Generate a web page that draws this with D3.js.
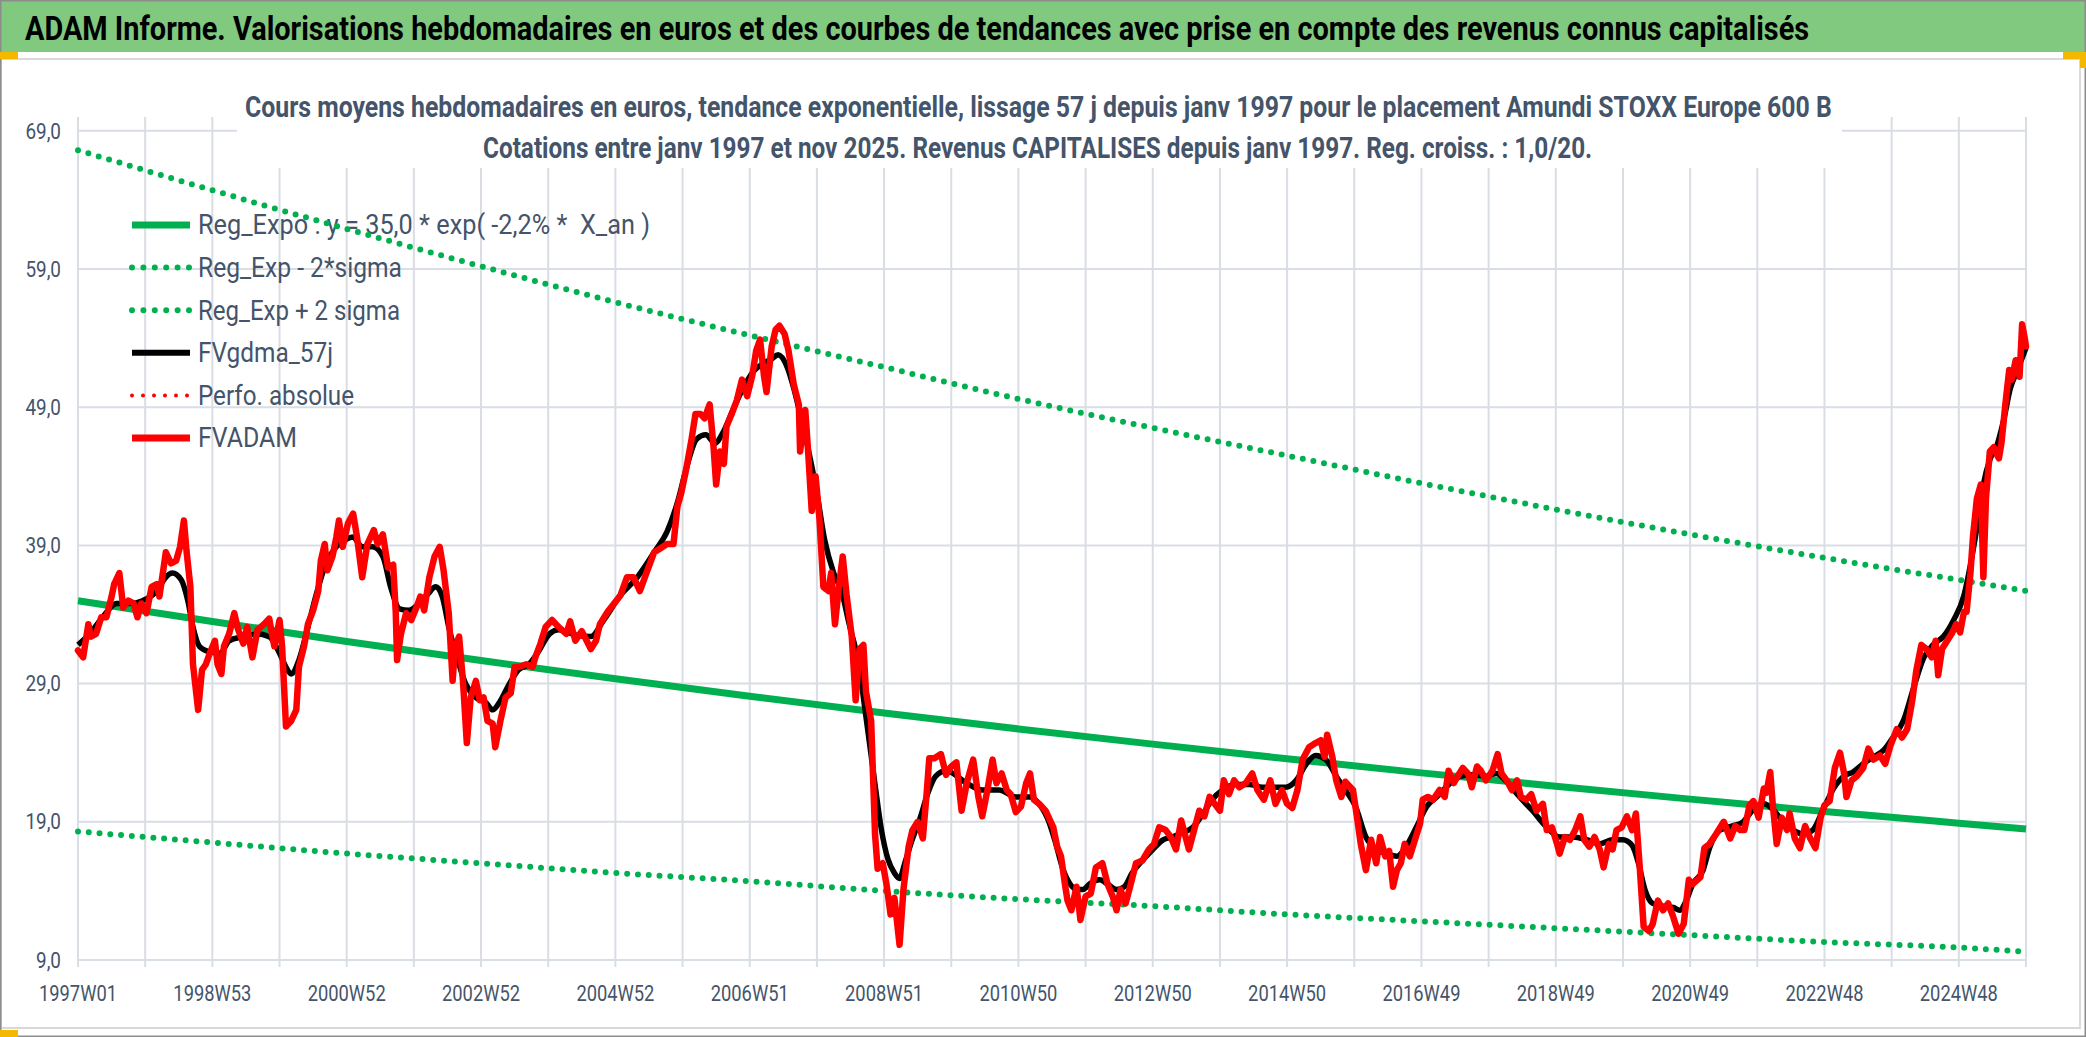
<!DOCTYPE html>
<html>
<head>
<meta charset="utf-8">
<script src="https://cdn.jsdelivr.net/npm/d3@7"></script>
<style>
  body { margin: 0; background: #fff; }
  svg text { font-family: Roboto, "Noto Sans", sans-serif; }
</style>
</head>
<body>
<svg id="chart" width="2086" height="1037"></svg>
<script>
// tick labels on the week axis, one every 104 weeks
const tickLabels = ["1997W01", "1998W53", "2000W52", "2002W52", "2004W52", "2006W51", "2008W51",
  "2010W50", "2012W50", "2014W50", "2016W49", "2018W49", "2020W49", "2022W48", "2024W48"];
const yTicks = [9, 19, 29, 39, 49, 59, 69];
const lastWeek = 1508;

// trend curves read every 2 years (week index)
const trendWeeks = [0, 104, 208, 312, 416, 520, 624, 728, 832, 936, 1040, 1144, 1248, 1352, 1456, 1508];
const regExpo = [35.0, 33.5, 32.05, 30.67, 29.35, 28.09, 26.88, 25.72, 24.62, 23.56, 22.54, 21.57, 20.64, 19.75, 18.9, 18.48];
const regUpper = [67.6, 64.7, 61.9, 59.2, 56.6, 54.2, 51.9, 49.6, 47.5, 45.5, 43.5, 41.6, 39.8, 38.1, 36.5, 35.7];
const regLower = [18.3, 17.5, 16.7, 16.0, 15.3, 14.7, 14.0, 13.4, 12.9, 12.3, 11.8, 11.3, 10.8, 10.3, 9.9, 9.6];

// FVgdma_57j : [week, value]
const fvgdma = [[0,31.8],[9,32.6],[19,33.8],[30,34.8],[40,34.8],[50,35.0],[61,35.7],[68,36.7],[73,37.0],[80,36.5],
  [85,35.0],[89,33.1],[94,31.7],[102,31.3],[110,31.2],[117,32.1],[128,32.4],[138,32.6],[148,32.4],[156,31.2],
  [161,30.2],[165,29.7],[171,30.7],[178,33.1],[184,35.3],[192,37.7],[200,38.9],[207,39.4],[213,39.6],[220,38.9],
  [228,38.9],[236,38.2],[242,36.0],[249,34.4],[256,34.3],[264,34.8],[271,35.5],[277,36.0],[282,35.3],[287,33.1],
  [294,30.7],[300,29.0],[308,28.0],[316,27.6],[321,27.1],[326,27.6],[334,29.0],[341,30.0],[349,30.4],[357,31.4],
  [365,32.6],[372,32.9],[386,32.5],[397,32.4],[407,33.6],[420,35.4],[433,36.7],[446,38.5],[456,40.0],[464,42.1],
  [471,44.6],[479,46.7],[486,47.0],[493,46.4],[500,47.3],[507,48.8],[515,50.4],[523,51.6],[531,52.2],[537,52.5],
  [542,52.8],[549,51.9],[554,50.4],[559,48.5],[565,46.1],[572,42.8],[578,39.4],[585,37.0],[591,35.7],[597,33.3],
  [604,30.6],[610,26.6],[617,21.7],[622,18.4],[627,16.3],[632,15.3],[636,14.9],[640,16.0],[645,17.5],[652,19.3],
  [658,21.1],[664,22.3],[672,22.7],[688,21.8],[700,21.3],[713,21.3],[726,20.8],[737,20.8],[744,20.3],[752,18.9],
  [757,17.4],[762,15.7],[768,14.5],[773,14.1],[778,14.1],[783,14.5],[791,14.8],[797,14.5],[804,14.1],[810,14.3],
  [816,15.3],[824,16.2],[832,17.0],[840,17.7],[847,17.9],[855,18.2],[863,18.6],[871,19.6],[878,20.6],[886,21.3],
  [896,21.7],[907,21.7],[917,21.5],[927,21.5],[935,21.5],[943,22.0],[951,23.2],[958,23.8],[966,23.5],[974,22.3],
  [981,21.3],[989,20.1],[997,17.9],[1005,17.0],[1013,16.7],[1021,16.5],[1028,17.2],[1036,18.6],[1044,20.1],[1052,20.8],
  [1059,21.5],[1070,22.3],[1080,22.4],[1090,22.3],[1098,22.5],[1106,21.9],[1116,20.8],[1126,19.8],[1137,18.6],[1147,17.9],
  [1157,17.9],[1168,17.7],[1178,17.4],[1188,17.7],[1196,17.7],[1203,17.3],[1208,16.0],[1213,14.1],[1219,13.1],[1227,12.9],
  [1235,12.8],[1240,12.6],[1245,13.3],[1250,14.5],[1258,15.5],[1263,17.1],[1271,18.4],[1281,18.7],[1289,19.0],[1297,19.9],
  [1305,20.3],[1312,19.9],[1320,19.0],[1328,18.4],[1336,18.1],[1343,18.4],[1351,19.9],[1359,21.4],[1367,22.3],[1374,22.6],
  [1382,23.2],[1390,23.7],[1398,24.2],[1405,25.1],[1413,26.3],[1421,28.7],[1429,30.9],[1436,31.8],[1444,32.4],[1452,33.6],
  [1460,35.4],[1465,37.6],[1470,40.3],[1475,43.4],[1480,45.2],[1485,46.1],[1491,48.2],[1496,50.4],[1501,51.6],[1506,52.8],
  [1508,53.3]];

// FVADAM : [week, value]
const fvadam = [[0,31.4],[4,30.9],[8,33.3],[10,32.4],[14,32.6],[18,33.8],[22,33.8],[26,35.3],[28,36.2],[32,37.0],
  [35,34.5],[39,35.0],[43,34.8],[46,33.8],[49,34.8],[53,34.1],[57,36.0],[61,36.2],[63,35.3],[66,37.2],
  [68,38.5],[72,37.7],[76,37.9],[79,38.9],[82,40.8],[84,38.6],[87,36.0],[89,30.4],[93,27.1],[96,30.0],
  [99,30.4],[102,31.2],[106,32.1],[108,30.4],[111,29.7],[113,31.7],[117,32.6],[121,34.1],[124,32.9],[128,31.9],
  [131,33.1],[135,30.9],[139,32.9],[144,33.3],[148,33.7],[152,31.7],[156,33.6],[158,31.7],[161,25.9],[165,26.3],
  [169,27.1],[171,30.2],[175,31.7],[178,33.3],[182,34.3],[186,35.7],[188,37.9],[191,39.1],[193,37.2],[197,38.2],
  [200,39.6],[202,40.8],[205,38.9],[209,40.6],[213,41.3],[216,39.6],[220,36.7],[224,39.1],[229,40.1],[232,39.1],
  [236,39.8],[240,37.4],[244,37.6],[246,34.1],[247,30.7],[250,32.6],[254,34.1],[258,33.6],[262,34.5],[265,35.3],
  [268,34.3],[272,36.7],[276,38.2],[280,38.9],[283,37.2],[287,34.1],[290,29.2],[292,31.7],[295,32.4],[298,29.2],
  [301,24.7],[304,28.0],[308,29.2],[311,27.8],[314,28.0],[317,26.3],[321,26.1],[323,24.4],[327,26.3],[331,28.0],
  [335,28.3],[338,30.2],[341,30.2],[347,30.4],[352,30.2],[354,30.9],[358,31.9],[362,33.1],[367,33.6],[372,33.1],
  [378,32.6],[381,33.5],[385,32.1],[390,32.8],[397,31.5],[401,32.1],[404,33.3],[410,34.2],[415,34.8],[420,35.4],
  [425,36.7],[430,36.7],[435,35.7],[440,37.0],[446,38.5],[451,38.8],[456,39.1],[461,39.1],[464,41.8],[467,42.8],
  [471,44.6],[475,46.7],[478,48.5],[482,48.5],[485,48.2],[489,49.2],[492,46.1],[494,43.4],[497,45.8],[500,44.9],
  [502,47.6],[506,48.5],[510,49.5],[514,51.0],[518,49.8],[522,51.3],[525,53.1],[528,53.9],[531,51.3],[533,50.1],
  [537,53.4],[540,54.6],[543,54.9],[547,54.3],[550,53.1],[554,50.7],[558,49.2],[559,45.8],[563,48.8],[565,46.1],
  [568,41.5],[571,44.0],[574,40.9],[577,36.0],[581,35.7],[583,37.0],[586,33.3],[589,36.0],[592,38.2],[595,35.4],
  [599,32.4],[602,27.8],[605,31.5],[608,31.8],[610,28.4],[614,26.3],[617,18.1],[619,15.6],[623,16.0],[626,14.4],
  [629,12.3],[632,13.5],[636,10.1],[639,14.1],[643,17.2],[646,18.4],[650,19.0],[654,17.8],[657,21.1],[659,23.6],
  [663,23.6],[668,23.9],[672,22.4],[676,23.0],[680,23.3],[684,19.8],[688,21.8],[693,23.5],[697,20.8],[700,19.4],
  [704,21.3],[708,23.5],[711,21.8],[715,22.5],[719,21.3],[722,21.0],[726,19.7],[730,20.1],[734,21.8],[737,22.5],
  [740,20.6],[744,20.3],[749,19.8],[755,18.6],[758,17.2],[761,16.5],[764,14.5],[766,13.3],[769,12.6],[773,14.3],
  [776,11.9],[780,13.6],[784,13.8],[788,15.7],[793,16.0],[797,14.5],[801,13.6],[804,12.6],[807,14.1],[811,13.1],
  [815,14.5],[819,16.0],[824,16.2],[829,17.0],[833,17.4],[837,18.6],[842,18.4],[846,17.9],[850,17.0],[854,19.1],
  [856,18.4],[860,17.0],[864,18.4],[868,19.8],[872,19.4],[876,20.8],[880,20.3],[884,19.8],[887,22.0],[891,21.0],
  [895,22.0],[899,21.5],[904,21.8],[909,22.5],[913,21.3],[918,20.6],[923,22.0],[927,20.3],[932,21.3],[936,20.3],
  [940,20.0],[944,21.3],[948,23.5],[953,24.4],[958,24.7],[962,24.9],[965,23.7],[967,25.3],[971,23.7],[974,22.0],
  [978,20.8],[981,21.9],[987,21.3],[990,19.4],[993,17.4],[997,15.5],[1001,17.7],[1005,16.0],[1008,17.9],[1012,16.5],
  [1015,16.9],[1018,14.3],[1021,15.5],[1024,16.0],[1027,17.4],[1031,16.5],[1035,17.7],[1039,18.9],[1041,20.6],[1045,20.8],
  [1049,20.6],[1054,21.3],[1058,20.8],[1061,22.7],[1065,21.8],[1068,22.3],[1072,22.9],[1076,22.5],[1079,21.5],[1083,23.0],
  [1086,22.7],[1090,22.0],[1095,22.7],[1099,23.9],[1102,22.5],[1106,22.0],[1110,21.3],[1114,22.0],[1117,20.8],[1121,20.6],
  [1125,21.0],[1129,19.8],[1134,20.3],[1137,18.4],[1141,18.6],[1145,17.4],[1147,16.7],[1151,17.9],[1155,17.7],[1159,18.4],
  [1163,19.4],[1166,17.7],[1170,17.2],[1174,17.9],[1178,17.0],[1181,15.7],[1185,17.4],[1188,17.0],[1191,18.4],[1195,18.6],
  [1199,19.4],[1203,18.4],[1206,19.6],[1209,15.7],[1212,11.4],[1216,11.1],[1219,11.6],[1223,13.3],[1227,12.6],[1231,13.1],
  [1235,12.1],[1239,10.9],[1243,11.6],[1247,14.8],[1250,14.5],[1256,15.0],[1259,17.1],[1263,17.4],[1268,18.1],[1274,19.0],
  [1279,17.8],[1283,18.7],[1287,18.4],[1290,18.4],[1294,20.2],[1297,20.5],[1301,19.3],[1305,21.4],[1307,21.1],[1310,22.6],
  [1312,20.2],[1315,17.4],[1319,19.3],[1323,18.4],[1325,19.6],[1329,17.8],[1333,17.1],[1337,18.7],[1341,17.8],[1345,17.1],
  [1349,19.3],[1352,20.2],[1356,20.5],[1360,22.9],[1364,24.0],[1367,22.6],[1369,20.8],[1373,22.0],[1377,22.3],[1382,22.9],
  [1386,24.3],[1390,23.5],[1395,23.8],[1399,23.2],[1403,24.5],[1408,25.7],[1412,25.1],[1416,25.7],[1420,27.8],[1423,29.9],
  [1427,31.8],[1431,31.5],[1435,30.9],[1438,32.1],[1440,29.6],[1443,31.5],[1447,32.1],[1451,32.7],[1454,33.3],[1457,32.7],
  [1460,34.2],[1462,34.2],[1465,37.0],[1467,39.7],[1470,42.4],[1473,43.4],[1475,36.7],[1477,42.4],[1480,45.8],[1483,46.1],
  [1487,45.3],[1489,46.4],[1492,49.2],[1495,51.7],[1497,51.0],[1500,52.4],[1503,51.2],[1505,55.0],[1507,54.0],[1508,53.4]];

const legendItems = [
  { label: "Reg_Expo : y = 35,0 * exp( -2,2% *  X_an )", color: "#00b050", width: 7, dash: null, len: 452 },
  { label: "Reg_Exp - 2*sigma", color: "#00b050", width: 6, dash: "0 11.4", len: 204 },
  { label: "Reg_Exp + 2 sigma", color: "#00b050", width: 6, dash: "0 11.4", len: 202 },
  { label: "FVgdma_57j", color: "#000000", width: 6, dash: null, len: 135 },
  { label: "Perfo. absolue", color: "#ff0000", width: 4, dash: "0 11", len: 156 },
  { label: "FVADAM", color: "#ff0000", width: 7, dash: null, len: 99 }
];

const W = 2086, H = 1037;
const plot = { left: 78, right: 2026, top: 117, bottom: 960 };
const gridColor = "#d9dde4";
const textColor = "#44546a";

const svg = d3.select("#chart");

const x = d3.scaleLinear().domain([0, lastWeek]).range([plot.left, plot.right]);
const y = d3.scaleLinear().domain([9, 70]).range([plot.bottom, plot.top]);

// place a text at (x0, y0) and squeeze it horizontally to a given width
function fitText(sel, x0, y0, width) {
  sel.each(function () {
    const w = this.getComputedTextLength();
    d3.select(this).attr("x", 0).attr("y", 0)
      .attr("transform", `translate(${x0},${y0}) scale(${width / w},1)`);
  });
}

// frame, title band, chart area
svg.append("rect").attr("width", W).attr("height", H).attr("fill", "#fff");
svg.append("rect").attr("x", 0).attr("y", 0).attr("width", W).attr("height", 52).attr("fill", "#80c97f");
svg.append("rect").attr("x", 1).attr("y", 59).attr("width", 2079).attr("height", 969)
  .attr("fill", "#fff").attr("stroke", "#d9d9d9").attr("stroke-width", 2);
svg.append("rect").attr("x", 0.75).attr("y", 0.75).attr("width", W - 1.5).attr("height", H - 1.5)
  .attr("fill", "none").attr("stroke", "#8c8c8c").attr("stroke-width", 1.5);

// selection handles (orange corners)
const handle = "#f5b800";
svg.append("rect").attr("x", 0).attr("y", 52).attr("width", 18).attr("height", 7).attr("fill", handle);
svg.append("path").attr("d", "M2063,52H2086V68H2080V59H2063Z").attr("fill", handle);
svg.append("rect").attr("x", 0).attr("y", 1030).attr("width", 18).attr("height", 7).attr("fill", handle);

svg.append("text")
  .style("font-size", "34px").style("font-weight", "700").attr("fill", "#000")
  .text("ADAM Informe. Valorisations hebdomadaires en euros et des courbes de tendances avec prise en compte des revenus connus capitalisés")
  .call(fitText, 25, 40, 1785);

// gridlines
const gridWeeks = d3.range(0, lastWeek + 1, 52);
const grid = svg.append("g").attr("stroke", gridColor).attr("stroke-width", 2);
grid.selectAll("line.h").data(yTicks).join("line")
  .attr("x1", plot.left).attr("x2", plot.right)
  .attr("y1", d => y(d)).attr("y2", d => y(d));
grid.selectAll("line.v").data(gridWeeks).join("line")
  .attr("x1", d => x(d)).attr("x2", d => x(d))
  .attr("y1", plot.top).attr("y2", plot.bottom + 7);

// subtitle box hides the grid behind it
svg.append("rect").attr("x", 237).attr("y", 61).attr("width", 1605).attr("height", 107).attr("fill", "#fff");
svg.append("text")
  .style("font-size", "30px").style("font-weight", "700").attr("fill", textColor)
  .text("Cours moyens hebdomadaires en euros, tendance exponentielle, lissage 57 j depuis janv 1997 pour le placement Amundi STOXX Europe 600 B")
  .call(fitText, 245, 117, 1588);
svg.append("text")
  .style("font-size", "30px").style("font-weight", "700").attr("fill", textColor)
  .text("Cotations entre janv 1997 et nov 2025. Revenus CAPITALISES depuis janv 1997. Reg. croiss. : 1,0/20.")
  .call(fitText, 483, 158, 1110);

// y axis labels
const fmt = d => d3.format(".1f")(d).replace(".", ",");
svg.append("g").selectAll("text").data(yTicks).join("text")
  .attr("x", 61).attr("y", d => y(d)).attr("dy", "0.35em")
  .attr("text-anchor", "end").style("font-size", "22px").attr("fill", textColor)
  .each(function (d) {
    d3.select(this).attr("transform", `translate(61,0) scale(0.86,1) translate(-61,0)`);
  })
  .text(fmt);

// x axis labels
svg.append("g").selectAll("text").data(tickLabels).join("text")
  .attr("x", (d, i) => x(i * 104)).attr("y", 1001)
  .attr("text-anchor", "middle").style("font-size", "22px").attr("fill", textColor)
  .attr("textLength", 78).attr("lengthAdjust", "spacingAndGlyphs")
  .text(d => d);

// legend
const legend = svg.append("g");
legendItems.forEach((it, i) => {
  const ly = 225 + i * 42.6;
  legend.append("line")
    .attr("x1", 132).attr("x2", 190).attr("y1", ly).attr("y2", ly)
    .attr("stroke", it.color).attr("stroke-width", it.width)
    .attr("stroke-linecap", it.dash ? "round" : "butt")
    .attr("stroke-dasharray", it.dash);
  legend.append("text")
    .attr("x", 198).attr("y", ly).attr("dy", "0.35em")
    .attr("textLength", it.len).attr("lengthAdjust", "spacingAndGlyphs")
    .style("font-size", "27px").style("white-space", "pre").attr("fill", textColor)
    .text(it.label);
});

// series
const trendLine = vals => d3.line()
  .x((d, i) => x(trendWeeks[i])).y(d => y(d))
  .curve(d3.curveMonotoneX)(vals);

svg.append("path").attr("d", trendLine(regExpo))
  .attr("fill", "none").attr("stroke", "#00b050").attr("stroke-width", 7);
[regLower, regUpper].forEach(vals => {
  svg.append("path").attr("d", trendLine(vals))
    .attr("fill", "none").attr("stroke", "#00b050").attr("stroke-width", 6)
    .attr("stroke-linecap", "round").attr("stroke-dasharray", "0 10.8");
});

const seriesLine = d3.line().x(d => x(d[0])).y(d => y(d[1]));

svg.append("path").attr("d", seriesLine.curve(d3.curveMonotoneX)(fvgdma))
  .attr("fill", "none").attr("stroke", "#000").attr("stroke-width", 5.5)
  .attr("stroke-linejoin", "round");

svg.append("path").attr("d", seriesLine.curve(d3.curveLinear)(fvadam))
  .attr("fill", "none").attr("stroke", "#ff0000").attr("stroke-width", 6.5)
  .attr("stroke-linejoin", "round").attr("stroke-linecap", "round");
</script>
</body>
</html>
